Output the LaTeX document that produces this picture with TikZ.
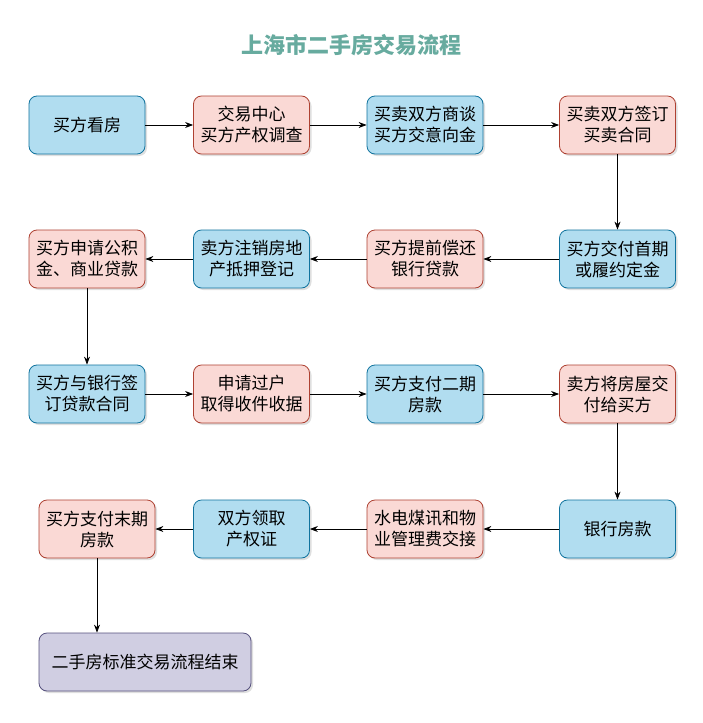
\documentclass[tikz,border=0pt]{standalone}
\usepackage{fontspec}
\setmainfont{Noto Sans CJK SC}
\usetikzlibrary{arrows.meta,shadows}
\definecolor{bfill}{HTML}{B1DDF0}
\definecolor{bline}{HTML}{10739E}
\definecolor{rfill}{HTML}{FAD9D5}
\definecolor{rline}{HTML}{AE4132}
\definecolor{pfill}{HTML}{D0CEE2}
\definecolor{pline}{HTML}{56517E}
\definecolor{titlegreen}{HTML}{67AB9F}
\begin{document}
\begin{tikzpicture}[x=1pt, y=-1pt, >={Stealth[length=8pt,width=6pt]},
  box/.style={rectangle, rounded corners=8pt, minimum width=116pt, minimum height=58pt,
    align=center, line width=0.8pt, font=\fontsize{17}{21}\selectfont,
    drop shadow={shadow xshift=2pt, shadow yshift=-2pt, opacity=0.25}},
  bluebox/.style={box, fill=bfill, draw=bline},
  redbox/.style={box, fill=rfill, draw=rline},
  endbox/.style={box, fill=pfill, draw=pline, minimum width=212pt}]
\useasboundingbox (0,0) rectangle (703,723);
\fill[white] (0,0) rectangle (703,723);
\node[text=titlegreen, font=\fontsize{22}{26}\selectfont\bfseries] (title) at (351,45) {上海市二手房交易流程};

\node[bluebox] (kanfang)   at (87,125)    {买方看房};
\node[redbox]  (diaocha)   at (251.5,125) {交易中心\\买方产权调查};
\node[bluebox] (shangtan)  at (425,125)   {买卖双方商谈\\买方交意向金};
\node[redbox]  (qianding)  at (617.5,125) {买卖双方签订\\买卖合同};

\node[bluebox] (shoufu)    at (617.5,259) {买方交付首期\\或履约定金};
\node[redbox]  (changhuan) at (425,259)   {买方提前偿还\\银行贷款};
\node[bluebox] (zhuxiao)   at (251.5,259) {卖方注销房地\\产抵押登记};
\node[redbox]  (daikuan)   at (87,259)    {买方申请公积\\金、商业贷款};

\node[bluebox] (hetong)    at (87,394)    {买方与银行签\\订贷款合同};
\node[redbox]  (guohu)     at (251.5,394) {申请过户\\取得收件收据};
\node[bluebox] (erqi)      at (425,394)   {买方支付二期\\房款};
\node[redbox]  (jiaofu)    at (617.5,394) {卖方将房屋交\\付给买方};

\node[bluebox] (yinhang)   at (617.5,529) {银行房款};
\node[redbox]  (jiaojie)   at (425,529)   {水电煤讯和物\\业管理费交接};
\node[bluebox] (lingzheng) at (251.5,529) {双方领取\\产权证};
\node[redbox]  (moqi)      at (97,529)    {买方支付末期\\房款};

\node[endbox]  (jieshu)    at (145,662)   {二手房标准交易流程结束};

\foreach \a/\b in {kanfang/diaocha, diaocha/shangtan, shangtan/qianding,
  shoufu/changhuan, changhuan/zhuxiao, zhuxiao/daikuan,
  hetong/guohu, guohu/erqi, erqi/jiaofu,
  yinhang/jiaojie, jiaojie/lingzheng, lingzheng/moqi}
{
    \draw[->, line width=0.8pt] (\a) -- (\b);
}
\foreach \a/\b in {qianding/shoufu, daikuan/hetong, jiaofu/yinhang}
{
    \draw[->, line width=0.8pt] (\a) -- (\b);
}
\draw[->, line width=0.8pt] (moqi.south) -- (moqi.south |- jieshu.north);

\end{tikzpicture}
\end{document}
